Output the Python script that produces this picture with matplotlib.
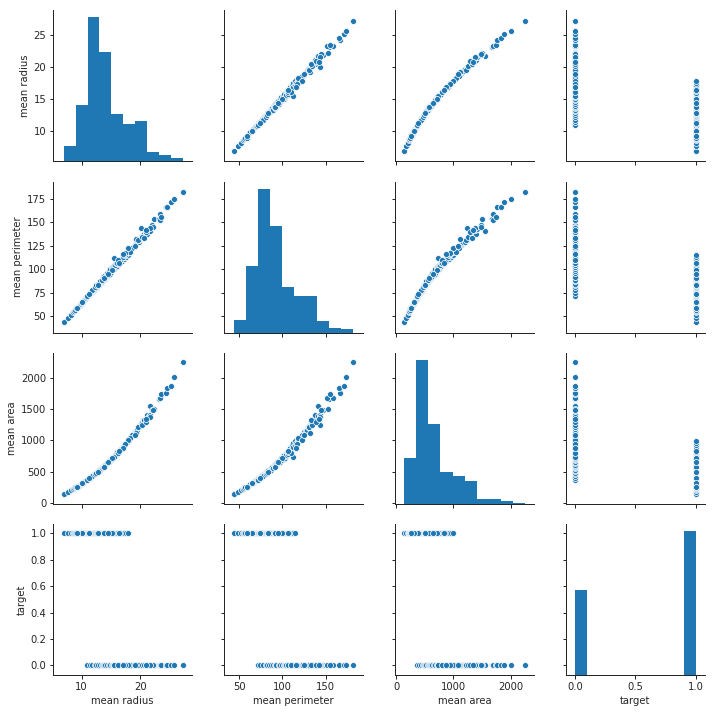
import matplotlib.pyplot as plt
import numpy as np

names = ['mean radius', 'mean perimeter', 'mean area', 'target']

# points:
# benign (1), malignant (0), then some extra malignant and benign points off the main band
radius = [6.98, 7.69, 8.2, 8.6, 8.73, 8.95, 9.0, 9.4, 9.5, 9.7, 9.9, 10.0, 10.2, 10.3, 10.5,
          10.6, 10.8, 10.9, 11.1, 11.2, 11.4, 11.5, 11.6, 11.8, 11.9, 12.0, 12.2, 12.3, 12.4,
          12.6, 12.7, 12.9, 13.0, 13.2, 13.4, 13.5, 13.7, 13.9, 14.0, 14.2, 14.4, 14.6, 14.8,
          15.0, 15.3, 15.5, 15.8, 16.0, 16.3, 16.6, 16.9, 17.2, 17.5, 17.85,
          10.95, 11.4, 11.8, 12.3, 12.5, 12.8, 13.1, 13.4, 13.6, 13.8, 14.0, 14.3, 14.6, 14.9,
          15.1, 15.3, 15.5, 15.7, 15.9, 16.1, 16.3, 16.5, 16.7, 17.0, 17.2, 17.5, 17.7, 18.0,
          18.2, 18.5, 18.7, 19.0, 19.2, 19.5, 19.7, 19.8, 20.05, 20.1, 20.3, 20.5, 20.6, 20.9,
          21.1, 21.4, 21.6, 21.7, 22.0, 22.3, 23.2, 23.3, 23.3, 23.5, 24.3, 24.6, 25.2, 25.7, 27.2,
          15.5, 19.2, 18.6, 19.6, 20.2, 18.3, 17.9, 20.6, 21.0, 19.0, 17.4, 16.2, 22.1, 21.6, 20.9, 17.0,
          13.8, 12.8, 15.1, 11.3, 10.1, 9.2, 14.5, 16.4]
perimeter = [43.8, 48.0, 51.7, 54.1, 55.3, 56.4, 58.8, 59.8, 60.3, 61.5, 62.9, 64.4, 65.0, 66.2, 67.4,
             68.1, 69.3, 70.2, 71.5, 72.2, 73.3, 73.9, 74.7, 76.1, 76.3, 77.2, 78.3, 79.0, 79.8,
             81.1, 81.9, 82.7, 83.8, 85.0, 86.2, 87.2, 88.1, 89.8, 90.3, 91.4, 92.6, 94.0, 95.3,
             96.7, 98.6, 100.2, 101.7, 103.6, 105.4, 107.3, 109.0, 111.2, 112.8, 114.6,
             71.9, 74.3, 77.4, 81.1, 82.6, 84.5, 87.1, 88.7, 91.4, 93.0, 92.0, 96.0, 97.7, 99.6,
             101.7, 102.5, 104.1, 104.4, 106.6, 107.0, 109.8, 109.7, 110.6, 112.4, 114.8, 116.1, 117.7, 118.6,
             120.3, 122.1, 123.7, 125.5, 127.2, 128.9, 129.1, 131.1, 143.4, 132.7, 134.7, 135.7, 137.8, 138.1,
             137.2, 141.3, 143.0, 140.9, 147.2, 152.8, 153.5, 158.9, 152.1, 155.1, 166.2, 165.5, 171.1, 174.2, 182.1,
             111.8, 132.4, 122.1, 130.7, 133.8, 118.6, 122.8, 132.9, 138.9, 124.6, 117.4, 110.1, 144.4, 144.0, 142.0, 116.0,
             91.0, 83.5, 99.0, 73.5, 64.7, 58.8, 94.5, 106.0]
area = [143.5, 178.8, 201.9, 221.2, 234.0, 246.0, 250.0, 268.0, 274.0, 290.0, 301.0, 311.0, 321.0, 330.0, 340.0,
        346.0, 358.0, 370.0, 380.0, 390.0, 399.0, 406.0, 412.0, 429.0, 438.0, 446.0, 459.0, 467.0, 475.0,
        490.0, 498.0, 512.0, 521.0, 537.0, 552.0, 561.0, 578.0, 594.0, 602.0, 622.0, 640.0, 656.0, 674.0,
        692.0, 720.0, 742.0, 771.0, 790.0, 818.0, 848.0, 880.0, 920.0, 951.0, 992.0,
        361.6, 403.0, 428.0, 467.0, 481.0, 512.0, 531.0, 553.0, 574.0, 594.0, 604.0, 633.0, 657.0, 684.0,
        706.0, 725.0, 744.0, 760.0, 782.0, 807.0, 826.0, 841.0, 868.0, 899.0, 920.0, 950.0, 971.0, 1007.0,
        1033.0, 1068.0, 1095.0, 1130.0, 1152.0, 1174.0, 1207.0, 1230.0, 1247.0, 1264.0, 1288.0, 1320.0, 1320.0, 1364.0,
        1404.0, 1386.0, 1407.0, 1546.0, 1482.0, 1509.0, 1670.0, 1685.0, 1686.0, 1747.0, 1761.0, 1841.0, 1878.0, 2010.0, 2250.0,
        740.0, 1123.0, 1094.0, 1214.0, 1250.0, 1041.0, 1001.0, 1326.0, 1290.0, 1080.0, 943.0, 800.0, 1485.0, 1370.0, 1340.0, 880.0,
        580.0, 500.0, 710.0, 390.0, 310.0, 260.0, 648.0, 830.0]
target = [1] * 54 + [0] * 57 + [0] * 16 + [1] * 8

# histogram counts (10 bins each)
radius_counts = [18, 68, 176, 133, 57, 45, 49, 11, 7, 4]
perimeter_counts = [15, 81, 175, 130, 55, 45, 44, 14, 5, 4]
area_counts = [72, 224, 124, 49, 43, 36, 7, 7, 4, 2]
target_counts = [211, 0, 0, 0, 0, 0, 0, 0, 0, 357]

data = [radius, perimeter, area, target]
counts = [radius_counts, perimeter_counts, area_counts, target_counts]

xlims = [(5.2, 28.7), (32.6, 192.9), (-14, 2402), (-0.075, 1.075)]
ylims = [(5.36, 28.97), (32.6, 193.1), (-16, 2403), (-0.073, 1.07)]
xticks = [[10, 20], [50, 100, 150], [0, 1000, 2000], [0.0, 0.5, 1.0]]
yticks = [[10, 15, 20, 25], [50, 75, 100, 125, 150, 175], [0, 500, 1000, 1500, 2000],
          [0.0, 0.2, 0.4, 0.6, 0.8, 1.0]]

blue = '#1f77b4'
dark = '#262626'
W, H = 714, 712
lefts = [53.3, 224.3, 395.3, 566.3]
tops = [10, 181.5, 352.8, 524]
aw, ah = 138.3, 151

plt.rcParams['font.family'] = 'DejaVu Sans'
plt.rcParams['font.size'] = 10

fig = plt.figure(figsize=(W / 72, H / 72), dpi=72)

for i in range(4):
    for j in range(4):
        ax = fig.add_axes([lefts[j] / W, (H - tops[i] - ah) / H, aw / W, ah / H])
        if i != j:
            ax.scatter(data[j], data[i], s=36, color=blue, edgecolor='white', linewidth=0.75, zorder=3)
        else:
            hx = ax.twinx()
            lo, hi = min(data[i]), max(data[i])
            edges = np.linspace(lo, hi, 11)
            hx.bar(edges[:-1], counts[i], width=np.diff(edges), align='edge', color=blue, linewidth=0)
            hx.set_ylim(0, max(counts[i]) * 1.05)
            hx.set_axis_off()
        ax.set_xlim(xlims[j])
        ax.set_ylim(ylims[i])
        ax.set_xticks(xticks[j])
        ax.set_yticks(yticks[i])
        for s in ['top', 'right']:
            ax.spines[s].set_visible(False)
        for s in ['left', 'bottom']:
            ax.spines[s].set_color(dark)
            ax.spines[s].set_linewidth(1.0)
        ax.tick_params(direction='out', length=3.5, width=1.0, color=dark, labelcolor=dark, labelsize=10)
        if j == 0:
            ax.set_ylabel(names[i], color=dark, fontsize=10)
        else:
            ax.tick_params(labelleft=False)
        if i == 3:
            ax.set_xlabel(names[j], color=dark, fontsize=10)
        else:
            ax.tick_params(labelbottom=False)

fig.savefig('out.png', dpi=72)
